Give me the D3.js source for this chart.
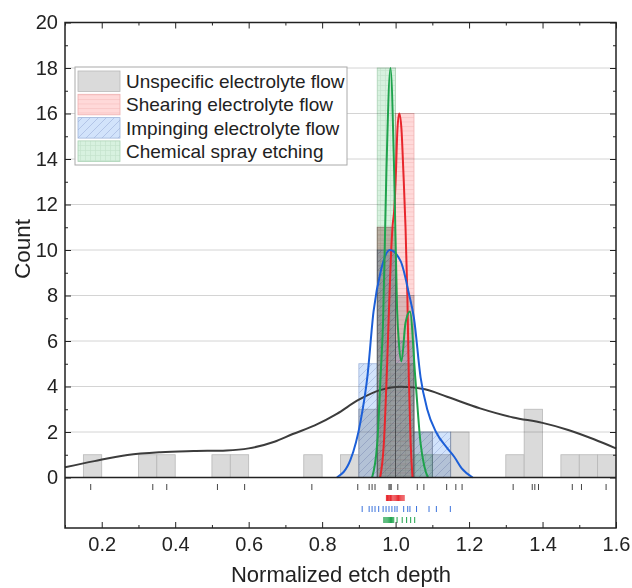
<!DOCTYPE html>
<html>
<head>
<meta charset="utf-8">
<script src="https://cdn.jsdelivr.net/npm/d3@7"></script>
<style>
  body { margin: 0; background: #fff; }
  svg { font-family: "Liberation Sans", Arial, sans-serif; }
</style>
</head>
<body>
<svg id="chart" width="632" height="588"></svg>
<script>
// histogram bins (left edges, width 0.05)
var binLefts = [0.10,0.15,0.20,0.25,0.30,0.35,0.40,0.45,0.50,0.55,0.60,0.65,0.70,0.75,0.80,
                0.85,0.90,0.95,1.00,1.05,1.10,1.15,1.20,1.25,1.30,1.35,1.40,1.45,1.50,1.55];
var binWidth = 0.05;
var grayCounts  = [0,1,0,0,1,1,0,0,1,1,0,0,0,1,0,1,3,11,8,2,1,2,0,0,1,3,0,1,1,1];
var redCounts   = [0,0,0,0,0,0,0,0,0,0,0,0,0,0,0,0,0,11,16,0,0,0,0,0,0,0,0,0,0,0];
var blueCounts  = [0,0,0,0,0,0,0,0,0,0,0,0,0,0,0,0,5,10,6,2,2,0,0,0,0,0,0,0,0,0];
var greenCounts = [0,0,0,0,0,0,0,0,0,0,0,0,0,0,0,0,0,18,5,1,0,0,0,0,0,0,0,0,0,0];

// distribution curves [x, count]
var grayCurve = [[0.1,0.45],[0.18,0.72],[0.27,0.99],[0.36,1.11],[0.45,1.16],[0.54,1.19],[0.6,1.28],
  [0.67,1.57],[0.72,1.91],[0.78,2.29],[0.84,2.8],[0.9,3.42],[0.96,3.85],[1.015,3.99],[1.08,3.88],
  [1.14,3.55],[1.23,3.04],[1.32,2.64],[1.4,2.4],[1.47,2.09],[1.54,1.68],[1.6,1.28]];
var redCurve = [[0.958,0],[0.968,1.5],[0.977,5],[0.982,7.4],[0.987,9.6],[0.992,11.1],[0.996,11.7],
  [1.0,13],[1.005,15.3],[1.01,16.0],[1.016,15.3],[1.021,13.5],[1.027,11],[1.032,8],[1.036,4.4],
  [1.041,1.5],[1.046,0]];
var blueCurve = [[0.84,0],[0.877,0.77],[0.905,2.5],[0.923,4.4],[0.94,7.3],[0.96,9.1],[0.984,10.0],
  [1.014,9.5],[1.036,8.1],[1.05,7.0],[1.068,4.4],[1.086,3.0],[1.11,2.0],[1.14,1.3],[1.16,0.9],
  [1.18,0.4],[1.21,0]];
var greenCurve = [[0.936,0],[0.95,1.5],[0.959,4.4],[0.966,6.9],[0.975,13.5],[0.986,18.0],[0.996,13.5],
  [1.004,7.4],[1.009,5.9],[1.016,5.1],[1.027,6.8],[1.039,7.3],[1.054,4.3],[1.068,1.5],[1.078,0.5],
  [1.088,0]];

// rug values
var grayRug = [0.170,0.339,0.377,0.515,0.589,0.772,0.897,0.928,0.936,0.944,0.982,0.985,0.988,1.006,
  1.059,1.077,1.139,1.164,1.181,1.320,1.372,1.379,1.389,1.481,1.506,1.573];
var redRug = [0.975,0.978,0.981,0.983,0.986,0.988,0.990,0.993,0.996,0.999,1.002,1.005,1.008,1.011,
  1.014,1.017,1.020,1.023];
var blueRug = [0.909,0.928,0.936,0.944,0.954,0.966,0.974,0.982,0.990,0.998,1.004,1.022,1.033,1.039,
  1.057,1.091,1.111,1.149];
var greenRug = [0.968,0.971,0.974,0.977,0.980,0.983,0.986,0.989,0.992,0.995,1.004,1.018,1.030,1.041,1.052];

var legendLabels = ["Unspecific electrolyte flow","Shearing electrolyte flow",
                    "Impinging electrolyte flow","Chemical spray etching"];
var xTicks = [0.2,0.4,0.6,0.8,1.0,1.2,1.4,1.6];
var xMinor = [0.1,0.3,0.5,0.7,0.9,1.1,1.3,1.5];
var yTicks = [0,2,4,6,8,10,12,14,16,18,20];
var yMinor = [1,3,5,7,9,11,13,15,17,19];

var svg = d3.select("#chart");
var pL = 65, pR = 616, pT = 22.5, zeroY = 477.5, pB = 528;

var x = d3.scaleLinear().domain([0.1, 1.6]).range([pL, pR]);
var y = d3.scaleLinear().domain([0, 20]).range([zeroY, pT]);

// patterns (opaque pastel, combined with multiply blending)
var defs = svg.append("defs");
var pr = defs.append("pattern").attr("id","hRed").attr("patternUnits","userSpaceOnUse")
  .attr("width",6).attr("height",4.5);
pr.append("rect").attr("width",6).attr("height",4.5).attr("fill","#ffd9d9");
pr.append("line").attr("x1",0).attr("x2",6).attr("y1",0.5).attr("y2",0.5)
  .attr("stroke","#f8c4c4").attr("stroke-width",0.8);

var pb = defs.append("pattern").attr("id","hBlue").attr("patternUnits","userSpaceOnUse")
  .attr("width",8).attr("height",8);
pb.append("rect").attr("width",8).attr("height",8).attr("fill","#d2e3fb");
pb.append("path").attr("d","M0,8 L8,0 M-2,2 L2,-2 M6,10 L10,6")
  .attr("stroke","#a9bde2").attr("stroke-width",0.8);

var pg = defs.append("pattern").attr("id","hGreen").attr("patternUnits","userSpaceOnUse")
  .attr("width",5).attr("height",5);
pg.append("rect").attr("width",5).attr("height",5).attr("fill","#d7f1df");
pg.append("path").attr("d","M0,0.5 H5 M0.5,0 V5")
  .attr("stroke","#c4e3cd").attr("stroke-width",0.7);

// gridlines
svg.append("g").selectAll("line").data(yTicks.filter(function(d){return d > 0 && d < 20;}))
  .enter().append("line")
  .attr("x1", pL).attr("x2", pR)
  .attr("y1", function(d){return y(d);}).attr("y2", function(d){return y(d);})
  .attr("stroke", "#d4d4d4").attr("stroke-width", 1);

// histograms
var series = [
  {counts: grayCounts, fill: "#dadada", stroke: "#b8b8b8"},
  {counts: redCounts, fill: "url(#hRed)", stroke: "#eeb0b0"},
  {counts: blueCounts, fill: "url(#hBlue)", stroke: "#9fb4da"},
  {counts: greenCounts, fill: "url(#hGreen)", stroke: "#aad2b5"}
];
series.forEach(function(s) {
  var bars = binLefts.map(function(b, i){ return {x0: b, x1: b + binWidth, n: s.counts[i]}; })
    .filter(function(d){ return d.n > 0; });
  svg.append("g").style("mix-blend-mode", "multiply")
    .selectAll("rect").data(bars).enter().append("rect")
    .attr("x", function(d){ return x(d.x0); })
    .attr("width", function(d){ return x(d.x1) - x(d.x0); })
    .attr("y", function(d){ return y(d.n); })
    .attr("height", function(d){ return zeroY - y(d.n); })
    .attr("fill", s.fill)
    .attr("stroke", s.stroke)
    .attr("stroke-width", 0.8);
});

// curves
var line = d3.line()
  .x(function(d){ return x(d[0]); })
  .y(function(d){ return y(d[1]); })
  .curve(d3.curveMonotoneX);
var curves = [
  {data: grayCurve, color: "#3c3c3c"},
  {data: redCurve, color: "#e8262c"},
  {data: blueCurve, color: "#1c5fd8"},
  {data: greenCurve, color: "#1ea34c"}
];
curves.forEach(function(c) {
  svg.append("path").datum(c.data)
    .attr("fill", "none")
    .attr("stroke", c.color)
    .attr("stroke-width", 2)
    .attr("d", line);
});

// rugs
var rugs = [
  {data: grayRug, cy: 487, color: "#444", w: 1},
  {data: redRug, cy: 498, color: "#e8262c", w: 1},
  {data: blueRug, cy: 509, color: "#3a72dc", w: 1},
  {data: greenRug, cy: 520, color: "#1ea34c", w: 1}
];
rugs.forEach(function(r) {
  svg.append("g").selectAll("line").data(r.data).enter().append("line")
    .attr("x1", function(d){ return x(d); }).attr("x2", function(d){ return x(d); })
    .attr("y1", r.cy - 3).attr("y2", r.cy + 3)
    .attr("stroke", r.color).attr("stroke-width", r.w);
});

// axes
function styleAxis(g) {
  g.select(".domain").remove();
  g.selectAll(".tick line").attr("stroke", "#222").attr("stroke-width", 1);
  g.selectAll(".tick text").attr("fill", "#222").style("font-size", "20px");
}
svg.append("g").attr("transform", "translate(0," + pB + ")")
  .call(d3.axisBottom(x).tickValues(xTicks).tickSize(-6).tickPadding(9).tickFormat(d3.format(".1f")))
  .call(styleAxis);
svg.append("g").attr("transform", "translate(0," + pB + ")")
  .call(d3.axisBottom(x).tickValues(xMinor).tickSize(-3).tickFormat(""))
  .call(styleAxis);
svg.append("g").attr("transform", "translate(0," + pT + ")")
  .call(d3.axisTop(x).tickValues(xTicks).tickSize(-6).tickFormat(""))
  .call(styleAxis);
svg.append("g").attr("transform", "translate(0," + pT + ")")
  .call(d3.axisTop(x).tickValues(xMinor).tickSize(-3).tickFormat(""))
  .call(styleAxis);
svg.append("g").attr("transform", "translate(" + pL + ",0)")
  .call(d3.axisLeft(y).tickValues(yTicks).tickSize(-6).tickPadding(7))
  .call(styleAxis);
svg.append("g").attr("transform", "translate(" + pL + ",0)")
  .call(d3.axisLeft(y).tickValues(yMinor).tickSize(-3).tickFormat(""))
  .call(styleAxis);
svg.append("g").attr("transform", "translate(" + pR + ",0)")
  .call(d3.axisRight(y).tickValues(yTicks).tickSize(-6).tickFormat(""))
  .call(styleAxis);
svg.append("g").attr("transform", "translate(" + pR + ",0)")
  .call(d3.axisRight(y).tickValues(yMinor).tickSize(-3).tickFormat(""))
  .call(styleAxis);

// frame
svg.append("rect").attr("x", pL).attr("y", pT)
  .attr("width", pR - pL).attr("height", pB - pT)
  .attr("fill", "none").attr("stroke", "#222").attr("stroke-width", 1.5);
svg.append("line").attr("x1", pL).attr("x2", pR).attr("y1", zeroY).attr("y2", zeroY)
  .attr("stroke", "#222").attr("stroke-width", 1.5);

// axis titles
svg.append("text").attr("x", 341).attr("y", 582)
  .attr("text-anchor", "middle").style("font-size", "22px").attr("fill", "#222")
  .text("Normalized etch depth");
svg.append("text").attr("transform", "translate(30,249) rotate(-90)")
  .attr("text-anchor", "middle").style("font-size", "22.5px").attr("fill", "#222")
  .text("Count");

// legend
var lg = svg.append("g");
lg.append("rect").attr("x", 75).attr("y", 67).attr("width", 272).attr("height", 98)
  .attr("fill", "#fff").attr("stroke", "#aaa").attr("stroke-width", 1);
var swatchFills = ["#dadada", "url(#hRed)", "url(#hBlue)", "url(#hGreen)"];
var swatchStrokes = ["#b8b8b8", "#eeb0b0", "#9fb4da", "#aad2b5"];
legendLabels.forEach(function(t, i) {
  var yy = 71 + i * 23.3;
  lg.append("rect").attr("x", 78).attr("y", yy).attr("width", 42).attr("height", 20.5)
    .attr("fill", swatchFills[i]).attr("stroke", swatchStrokes[i]).attr("stroke-width", 0.8);
  lg.append("text").attr("x", 126).attr("y", yy + 17)
    .style("font-size", "19px").attr("fill", "#222").text(t);
});
</script>
</body>
</html>
